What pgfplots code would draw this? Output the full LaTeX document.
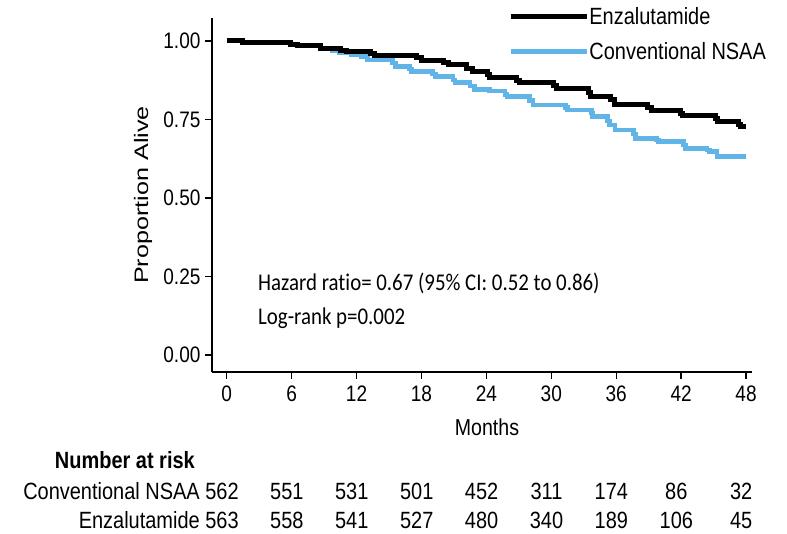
\documentclass[border=0pt]{standalone}
\usepackage{fontspec}
\setmainfont{Liberation Sans}[FakeStretch=0.85]
\newfontfamily\plainfont{Liberation Sans}
\newfontfamily\annfont{Carlito}[FakeStretch=0.87,Ligatures=NoCommon]
\usepackage{pgfplots}
\pgfplotsset{compat=1.18}
\definecolor{nsaa}{RGB}{96,180,232}
\begin{document}
\begin{tikzpicture}[x=1pt,y=1pt]
\useasboundingbox (0,0) rectangle (787,533);
\begin{axis}[
  scale only axis,
  width=540pt, height=354pt,
  at={(212pt,161pt)}, anchor=south west,
  xmin=-1.36, xmax=48.55,
  ymin=-0.054, ymax=1.073,
  axis x line*=bottom, axis y line*=left,
  axis line style={line width=2pt,-},
  tick align=outside,
  major tick length=7pt,
  tick style={line width=1.4pt,black},
  xtick={0,6,...,48},
  ytick={0,0.25,0.5,0.75,1},
  yticklabel style={/pgf/number format/fixed,/pgf/number format/fixed zerofill,/pgf/number format/precision=2},
  /pgf/number format/assume math mode=true,
  tick label style={font=\fontsize{22.4}{26}\selectfont},
  xticklabel style={yshift=-3pt},
  yticklabel style={xshift=-1pt},
  legend style={at={(0.5485,1.03)},anchor=north west,draw=none,fill=none,
     font=\fontsize{23.5}{28}\selectfont,row sep=16pt,inner sep=0pt,
     nodes={inner sep=0pt}},
  legend cell align=left,
  legend image code/.code={\draw[#1] (0pt,0pt) -- (76pt,0pt);},
  clip=false,
]
\addlegendimage{black,line width=5pt}
\addlegendentry{Enzalutamide}
\addlegendimage{nsaa,line width=4.5pt}
\addlegendentry{Conventional NSAA}
\addplot[const plot, nsaa, line width=4.5pt, forget plot] coordinates {
(0,1.0) (1.5,0.995) (5.9,0.99) (6.5,0.984) (8.7,0.977) (9.8,0.97) (10.4,0.962)
(11.5,0.955) (12.4,0.95) (13,0.94) (15.3,0.93) (15.6,0.918) (16.9,0.91)
(17.1,0.902) (19,0.894) (19.3,0.886) (20.9,0.876) (21.1,0.867) (22.5,0.856)
(22.9,0.846) (24.3,0.84) (25.7,0.83) (25.9,0.823) (28,0.81) (28.3,0.796)
(31.3,0.788) (31.5,0.78) (33.7,0.77) (33.8,0.759) (35.2,0.745) (35.4,0.732)
(35.9,0.717) (37.6,0.703) (37.8,0.69) (39.7,0.685) (39.9,0.68) (42.2,0.668)
(42.4,0.658) (44.4,0.652) (44.6,0.648) (45.3,0.632) (48,0.632)
};
\addplot[const plot, black, line width=5pt, forget plot] coordinates {
(0,1.0) (1.5,0.995) (5.9,0.99) (6.5,0.984) (8.7,0.977) (10.5,0.97) (11.1,0.966)
(13.3,0.96) (13.7,0.955) (17.5,0.946) (18,0.937) (20,0.93) (20.5,0.924)
(22.2,0.912) (22.7,0.902) (24.1,0.893) (24.3,0.883) (26.8,0.875) (27.1,0.868)
(30.2,0.857) (30.5,0.847) (33.4,0.835) (33.6,0.823) (35.5,0.812) (35.8,0.798)
(38.9,0.787) (39.3,0.777) (41.9,0.77) (42.1,0.764) (45.2,0.753) (45.4,0.743)
(47.3,0.735) (47.5,0.727) (48,0.727)
};
\end{axis}
% axis labels
\node[font=\fontsize{23}{26}\selectfont] at (487,106) {Months};
\node[rotate=90,font=\plainfont\fontsize{19.5}{22}\selectfont] at (143,338) {\scalebox{1.29}[1]{Proportion Alive}};
% annotation
\node[anchor=west,font=\annfont\fontsize{24}{28}\selectfont,inner sep=0pt] at (258,250) {Hazard ratio= 0.67 (95\% CI: 0.52 to 0.86)};
\node[anchor=west,font=\annfont\fontsize{24}{28}\selectfont,inner sep=0pt] at (258,215) {Log-rank p=0.002};
% number at risk
\node[anchor=base east,font=\bfseries\fontsize{23.5}{28}\selectfont,inner sep=0pt] at (195,64.6) {Number at risk};
\node[anchor=base east,font=\fontsize{23.5}{28}\selectfont,inner sep=0pt] at (200,33.6) {Conventional NSAA};
\node[anchor=base east,font=\fontsize{23.5}{28}\selectfont,inner sep=0pt] at (200,4.6) {Enzalutamide};
\foreach \v [count=\i from 0] in {562,551,531,501,452,311,174,86,32}
  \node[anchor=base,font=\fontsize{23.5}{28}\selectfont,inner sep=0pt] at (222+64.9*\i,33.6) {\v};
\foreach \v [count=\i from 0] in {563,558,541,527,480,340,189,106,45}
  \node[anchor=base,font=\fontsize{23.5}{28}\selectfont,inner sep=0pt] at (222+64.9*\i,4.6) {\v};
\end{tikzpicture}
\end{document}
